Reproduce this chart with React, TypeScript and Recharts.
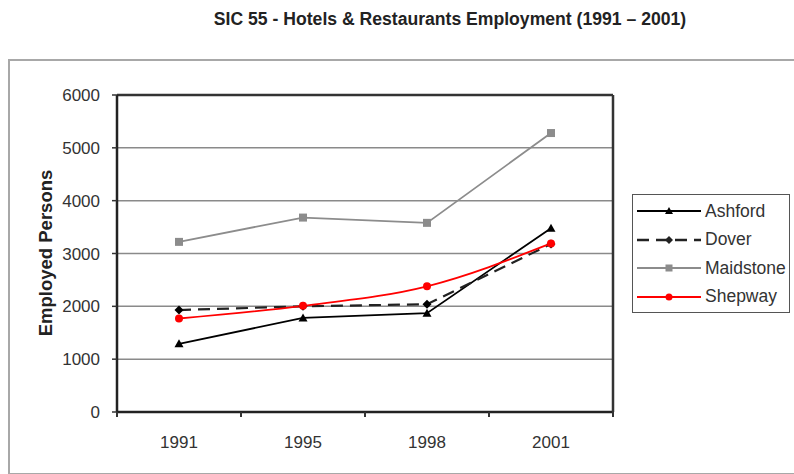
import React from "react";
import {
  LineChart,
  Line,
  XAxis,
  YAxis,
  CartesianGrid,
} from "recharts";

const years = ["1991", "1995", "1998", "2001"];
const ashford = [1290, 1780, 1870, 3480];
const dover = [1930, 2000, 2040, 3180];
const maidstone = [3220, 3680, 3580, 5280];
const shepway = [1770, 2010, 2380, 3190];
const yTicks = [0, 1000, 2000, 3000, 4000, 5000, 6000];

const title = "SIC 55 - Hotels & Restaurants Employment (1991 \u2013 2001)";
const yLabel = "Employed Persons";

const data = years.map((y, i) => ({
  year: y,
  Ashford: ashford[i],
  Dover: dover[i],
  Maidstone: maidstone[i],
  Shepway: shepway[i],
}));

const FONT = "'Liberation Sans', Arial, sans-serif";

const Triangle = (p: any) => (
  <polygon
    key={`t${p.index}`}
    points={`${p.cx},${p.cy - 4.5} ${p.cx - 4.5},${p.cy + 3.5} ${p.cx + 4.5},${p.cy + 3.5}`}
    fill="#000"
  />
);
const Diamond = (p: any) => (
  <polygon
    key={`d${p.index}`}
    points={`${p.cx},${p.cy - 4.5} ${p.cx + 4.5},${p.cy} ${p.cx},${p.cy + 4.5} ${p.cx - 4.5},${p.cy}`}
    fill="#000"
  />
);
const Square = (p: any) => (
  <rect key={`s${p.index}`} x={p.cx - 4} y={p.cy - 4} width={8} height={8} fill="#8c8c8c" />
);
const Dot = (p: any) => <circle key={`c${p.index}`} cx={p.cx} cy={p.cy} r={4} fill="#ff0000" />;

const XTick = (p: any) => {
  const { x, payload, index } = p;
  const half = 62;
  return (
    <g>
      <line x1={x - half} y1={412} x2={x - half} y2={417} stroke="#333" strokeWidth={2} />
      {index === years.length - 1 && (
        <line x1={x + half} y1={412} x2={x + half} y2={417} stroke="#333" strokeWidth={2} />
      )}
      <text x={x} y={448} textAnchor="middle" fontSize={17} fill="#333" fontFamily={FONT}>
        {payload.value}
      </text>
    </g>
  );
};

const legendItems = [
  { name: "Ashford", color: "#000", dash: undefined as string | undefined, marker: "tri", width: 2 },
  { name: "Dover", color: "#222", dash: "12 7", marker: "dia", width: 2.5 },
  { name: "Maidstone", color: "#8c8c8c", dash: undefined, marker: "sq", width: 2 },
  { name: "Shepway", color: "#ff0000", dash: undefined, marker: "circ", width: 2 },
];

const LegendMarker = ({ m, c }: { m: string; c: string }) => {
  const cx = 32, cy = 8;
  if (m === "tri") return <polygon points={`${cx},${cy - 4} ${cx - 4},${cy + 3} ${cx + 4},${cy + 3}`} fill={c} />;
  if (m === "dia") return <polygon points={`${cx},${cy - 4} ${cx + 4},${cy} ${cx},${cy + 4} ${cx - 4},${cy}`} fill={c} />;
  if (m === "sq") return <rect x={cx - 3.5} y={cy - 3.5} width={7} height={7} fill={c} />;
  return <circle cx={cx} cy={cy} r={3.5} fill={c} />;
};

export default function App() {
  return (
    <div style={{ position: "absolute", left: 0, top: 0, width: 794, height: 474, background: "#fff", overflow: "hidden" }}>
      <div
        style={{
          position: "absolute",
          left: 450,
          top: 11,
          transform: "translateX(-50%)",
          whiteSpace: "nowrap",
          fontFamily: FONT,
          fontWeight: "bold",
          fontSize: 17.6,
          lineHeight: "17.6px",
          color: "#222",
        }}
      >
        {title}
      </div>
      <div
        style={{
          position: "absolute",
          left: 8,
          top: 59,
          width: 820,
          height: 412,
          border: "2px solid #a8a8a8",
        }}
      />
      <div style={{ position: "absolute", left: 0, top: 0 }}>
        <LineChart width={794} height={474} data={data} margin={{ top: 94, right: 180, bottom: 32, left: 57 }}>
          <CartesianGrid vertical={false} stroke="#8a8a8a" strokeWidth={1.5} />
          <XAxis
            dataKey="year"
            padding={{ left: 62, right: 62 }}
            axisLine={{ stroke: "#222", strokeWidth: 2.5 }}
            tickLine={false}
            tick={<XTick />}
            height={30}
            interval={0}
          />
          <XAxis
            xAxisId="top"
            dataKey="year"
            orientation="top"
            padding={{ left: 62, right: 62 }}
            height={1}
            tick={false}
            tickLine={false}
            axisLine={{ stroke: "#333", strokeWidth: 2.5 }}
          />
          <YAxis
            domain={[0, 6000]}
            ticks={yTicks}
            width={60}
            axisLine={{ stroke: "#222", strokeWidth: 2.5 }}
            tickLine={{ stroke: "#333", strokeWidth: 1.5 }}
            tickSize={5}
            tickMargin={12}
            tick={{ fontSize: 17, fill: "#333", fontFamily: FONT }}
            interval={0}
          />
          <YAxis
            yAxisId="right"
            orientation="right"
            domain={[0, 6000]}
            ticks={yTicks}
            width={1}
            tick={false}
            tickLine={false}
            axisLine={{ stroke: "#333", strokeWidth: 2.5 }}
          />
          <Line yAxisId="right" dataKey="Maidstone" stroke="#8c8c8c" strokeWidth={1.8} dot={Square} activeDot={false} isAnimationActive={false} />
          <Line xAxisId="top" dataKey="Ashford" stroke="#000" strokeWidth={1.8} dot={Triangle} activeDot={false} isAnimationActive={false} />
          <Line dataKey="Dover" stroke="#222" strokeWidth={2.2} strokeDasharray="12 7" dot={Diamond} activeDot={false} isAnimationActive={false} />
          <Line dataKey="Shepway" type="monotone" stroke="#ff0000" strokeWidth={1.8} dot={Dot} activeDot={false} isAnimationActive={false} />
        </LineChart>
      </div>
      <div
        style={{
          position: "absolute",
          left: 46,
          top: 253,
          transform: "translate(-50%, -50%) rotate(-90deg)",
          fontFamily: FONT,
          fontWeight: "bold",
          fontSize: 18.5,
          lineHeight: "18.5px",
          color: "#222",
          whiteSpace: "nowrap",
        }}
      >
        {yLabel}
      </div>
      <div
        style={{
          position: "absolute",
          left: 632,
          top: 194,
          width: 158,
          height: 119,
          border: "1.5px solid #555",
          boxSizing: "border-box",
          paddingTop: 2,
        }}
      >
        {legendItems.map((it) => (
          <div key={it.name} style={{ display: "flex", alignItems: "center", height: 28.5, fontFamily: FONT, fontSize: 17.5, color: "#333" }}>
            <svg width={66} height={16} style={{ marginLeft: 4, marginRight: 2, flexShrink: 0 }}>
              <line x1={0} y1={8} x2={64} y2={8} stroke={it.color} strokeWidth={it.width} strokeDasharray={it.dash} />
              <LegendMarker m={it.marker} c={it.color} />
            </svg>
            <span style={{ whiteSpace: "nowrap" }}>{it.name}</span>
          </div>
        ))}
      </div>
    </div>
  );
}
